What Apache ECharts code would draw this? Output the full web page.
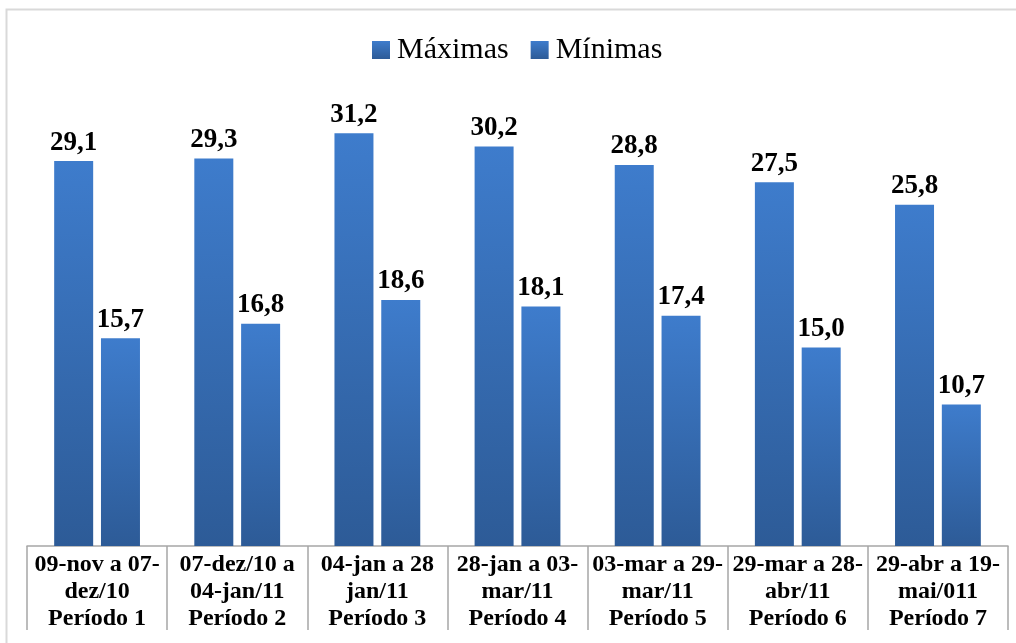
<!DOCTYPE html>
<html>
<head>
<meta charset="utf-8">
<script src="https://cdn.jsdelivr.net/npm/echarts@6/dist/echarts.min.js"></script>
<style>
  html, body { margin: 0; padding: 0; background: #fff; }
  #main { width: 1016px; height: 643px; }
</style>
</head>
<body>
<div id="main"></div>
<script>
const categories = [
  '09-nov a 07-\ndez/10\nPeríodo 1',
  '07-dez/10 a\n04-jan/11\nPeríodo 2',
  '04-jan a 28\njan/11\nPeríodo 3',
  '28-jan a 03-\nmar/11\nPeríodo 4',
  '03-mar a 29-\nmar/11\nPeríodo 5',
  '29-mar a 28-\nabr/11\nPeríodo 6',
  '29-abr a 19-\nmai/011\nPeríodo 7'
];
const maximas = [29.1, 29.3, 31.2, 30.2, 28.8, 27.5, 25.8];
const minimas = [15.7, 16.8, 18.6, 18.1, 17.4, 15.0, 10.7];

const serif = '"Liberation Serif", "Times New Roman", serif';

const barColor = new echarts.graphic.LinearGradient(0, 0, 0, 1, [
  { offset: 0, color: '#3e7ccc' },
  { offset: 1, color: '#2d5b97' }
]);

const valueLabel = {
  show: true,
  position: 'top',
  distance: 5,
  fontFamily: serif,
  fontWeight: 'bold',
  fontSize: 27,
  color: '#000',
  formatter: p => p.value.toFixed(1).replace('.', ',')
};

const chart = echarts.init(document.getElementById('main'));

chart.setOption({
  animation: false,
  graphic: [{
    type: 'rect',
    shape: { x: 6.5, y: 9.5, width: 1030, height: 660 },
    style: { fill: 'none', stroke: '#d9d9d9', lineWidth: 2 },
    silent: true
  }],
  legend: {
    top: 30,
    left: 367,
    itemWidth: 18,
    itemHeight: 18,
    itemGap: 22,
    icon: 'rect',
    textStyle: { fontFamily: serif, fontSize: 30, color: '#000', padding: [0, 0, 0, 2] },
    data: ['Máximas', 'Mínimas']
  },
  grid: { left: 27, right: 8, top: 83, bottom: 97 },
  xAxis: {
    type: 'category',
    data: categories,
    boundaryGap: true,
    axisLine: { lineStyle: { color: '#a6a6a6', width: 1.5 } },
    axisTick: { show: true, interval: 0, length: 84, lineStyle: { color: '#a6a6a6', width: 1.5 } },
    axisLabel: {
      interval: 0,
      margin: 5,
      fontFamily: serif,
      fontWeight: 'bold',
      fontSize: 24,
      lineHeight: 27,
      color: '#000'
    }
  },
  yAxis: {
    type: 'value',
    min: 0,
    max: 35,
    show: false,
    splitLine: { show: false }
  },
  series: [
    {
      name: 'Máximas',
      type: 'bar',
      data: maximas,
      barWidth: 39,
      barGap: '20%',
      itemStyle: { color: barColor },
      label: valueLabel
    },
    {
      name: 'Mínimas',
      type: 'bar',
      data: minimas,
      barWidth: 39,
      barGap: '20%',
      itemStyle: { color: barColor },
      label: valueLabel
    }
  ]
});
</script>
</body>
</html>
